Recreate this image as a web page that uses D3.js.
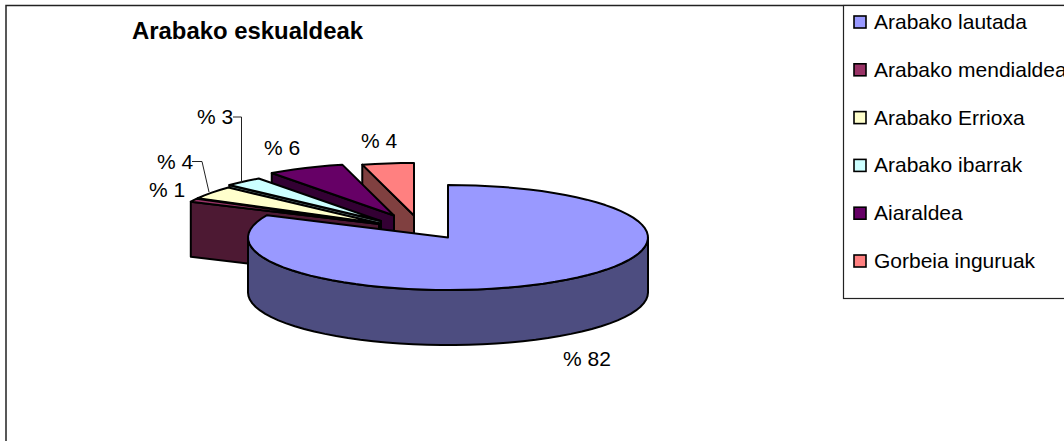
<!DOCTYPE html>
<html lang="en">
<head>
    <meta charset="UTF-8">
    <title>Arabako eskualdeak</title>
    <script src="https://d3js.org/d3.v7.min.js"></script>
    <style>
        html, body { margin: 0; padding: 0; background: #fff; overflow: hidden; }
        svg { display: block; }
        text { font-family: "Liberation Sans", Arial, sans-serif; fill: #000; }
    </style>
</head>
<body>
<svg id="canvas" width="1064" height="441"></svg>
<script>
    // chart data
    const title = "Arabako eskualdeak";
    const regions = ["Arabako lautada", "Arabako mendialdea", "Arabako Errioxa", "Arabako ibarrak", "Aiaraldea", "Gorbeia inguruak"];
    const shares = [82, 1, 4, 3, 6, 4];

    // look of the slices, same order as regions
    const topColors = ["#9999ff", "#993366", "#ffffcc", "#ccffff", "#660066", "#ff8080"];
    const wallColors = ["#4d4d80", "#4d1933", "#808066", "#668080", "#330033", "#804040"];
    // how far each slice is pulled out of the pie
    const explodeX = [0, -69, -68, -67, -54, -34];
    const explodeY = [0, -13.5, -14, -16.5, -22, -22];
    // label anchors [x, y baseline], text-anchor start
    const labelX = [563, 149, 157, 197, 264, 361];
    const labelY = [366, 197, 169, 124, 155, 148];

    const cx = 448, cy = 237.5, rx = 200, ry = 52.5, depth = 55;
    const rxExploded = 208; // pulled out slices come out a bit wider

    const svg = d3.select("#canvas");

    // frame of the chart, runs off the page right and bottom
    svg.append("path")
        .attr("d", "M6,460V5.5H1070")
        .attr("fill", "none").attr("stroke", "#222").attr("stroke-width", 1.5);

    const pie = d3.pie().sort(null).value(d => d);
    const arcs = pie(shares);

    const line = d3.line();

    function rim(a, ox, oy, r) {
        return [cx + ox + r * Math.sin(a), cy + oy - ry * Math.cos(a)];
    }

    function rimPoints(a0, a1, ox, oy, r) {
        const n = Math.max(2, Math.ceil((a1 - a0) / 0.07));
        return d3.range(n + 1).map(i => rim(a0 + (a1 - a0) * i / n, ox, oy, r));
    }

    const pieG = svg.append("g")
        .attr("stroke", "#000").attr("stroke-width", 2).attr("stroke-linejoin", "round");

    // back to front: last slice first, biggest one last
    d3.range(arcs.length - 1, -1, -1).forEach(i => {
        const a = arcs[i], ox = explodeX[i], oy = explodeY[i];
        const apex = [cx + ox, cy + oy];
        const r = i === 0 ? rx : rxExploded;
        if (i === 0) {
            // outer wall of the front half
            const front = rimPoints(Math.PI / 2, Math.PI * 1.5, ox, oy, r);
            const lower = front.map(p => [p[0], p[1] + depth]).reverse();
            pieG.append("path")
                .attr("d", line(front.concat(lower)) + "Z")
                .attr("fill", wallColors[i]);
        } else {
            // cut face on the start side
            const p = rim(a.startAngle, ox, oy, r);
            pieG.append("path")
                .attr("d", line([apex, p, [p[0], p[1] + depth], [apex[0], apex[1] + depth]]) + "Z")
                .attr("fill", wallColors[i]);
        }
        pieG.append("path")
            .attr("d", line([apex].concat(rimPoints(a.startAngle, a.endAngle, ox, oy, r))) + "Z")
            .attr("fill", topColors[i]);
    });

    // leader lines for the two small labels
    const leaders = [
        [[233, 117], [241.5, 117], [241.5, 183]],
        [[192, 161.5], [202, 161.5], [209, 192]]
    ];
    svg.append("g").selectAll("path").data(leaders).enter().append("path")
        .attr("d", d => line(d))
        .attr("fill", "none").attr("stroke", "#222").attr("stroke-width", 1);

    svg.append("g").selectAll("text").data(shares).enter().append("text")
        .attr("x", (d, i) => labelX[i])
        .attr("y", (d, i) => labelY[i])
        .attr("font-size", 21)
        .text(d => "% " + d);

    svg.append("text")
        .attr("x", 132).attr("y", 39)
        .attr("font-size", 23.9).attr("font-weight", "bold")
        .text(title);

    // legend
    svg.append("rect")
        .attr("x", 843.5).attr("y", 5.5).attr("width", 230).attr("height", 293)
        .attr("fill", "#fff").attr("stroke", "#222").attr("stroke-width", 1.2);

    const legendY = d3.scalePoint().domain(regions).range([22, 261]);
    const legend = svg.append("g").selectAll("g").data(regions).enter().append("g")
        .attr("transform", d => `translate(854,${legendY(d)})`);
    legend.append("rect")
        .attr("x", 0).attr("y", -6).attr("width", 12).attr("height", 12)
        .attr("fill", (d, i) => topColors[i])
        .attr("stroke", "#000").attr("stroke-width", 1.6);
    legend.append("text")
        .attr("x", 20).attr("y", 7)
        .attr("font-size", 21)
        .text(d => d);
</script>
</body>
</html>
